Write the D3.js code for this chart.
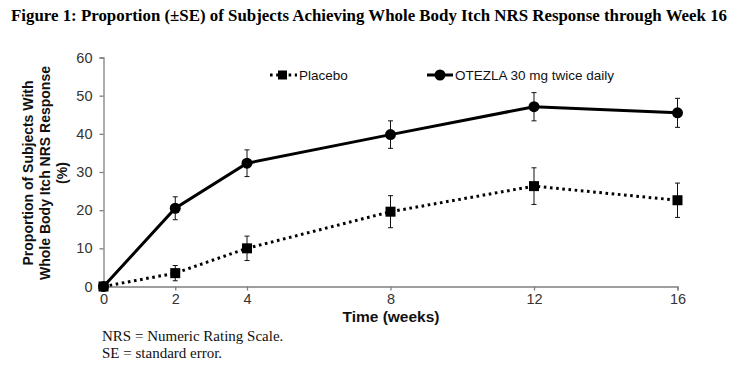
<!DOCTYPE html>
<html>
<head>
<meta charset="utf-8">
<script src="https://cdn.jsdelivr.net/npm/d3@7"></script>
<style>
  body { margin: 0; background: #fff; }
  svg { display: block; }
</style>
</head>
<body>
<script>
// data
const weeks = [0, 2, 4, 8, 12, 16]
const placebo = [0, 3.5, 10.0, 19.6, 26.3, 22.6]
const placeboSE = [0, 2.0, 3.2, 4.2, 4.8, 4.5]
const otezla = [0, 20.5, 32.3, 39.8, 47.1, 45.5]
const otezlaSE = [0, 3.0, 3.5, 3.6, 3.7, 3.8]
const yTicks = [0, 10, 20, 30, 40, 50, 60]
const xTicks = [0, 2, 4, 8, 12, 16]

let w = 737
let h = 366

let svg = d3.select("body")
    .append("svg")
    .attr("width", w)
    .attr("height", h)

let x = d3.scaleLinear().domain([0, 16]).range([103.5, 677.5])
let y = d3.scaleLinear().domain([0, 60]).range([286.5, 57.5])

// title
svg.append("text")
    .attr("x", 369).attr("y", 21)
    .attr("text-anchor", "middle")
    .attr("font-family", "Liberation Serif, Times New Roman, serif")
    .attr("font-weight", "bold")
    .attr("font-size", 16)
    .attr("textLength", 716)
    .attr("lengthAdjust", "spacingAndGlyphs")
    .text("Figure 1: Proportion (±SE) of Subjects Achieving Whole Body Itch NRS Response through Week 16")

// axes
svg.append("g")
    .attr("transform", "translate(" + x(0) + ",0)")
    .call(d3.axisLeft(y).tickValues(yTicks).tickSize(4).tickSizeOuter(4).tickPadding(7))
svg.append("g")
    .attr("transform", "translate(0," + y(0) + ")")
    .call(d3.axisBottom(x).tickValues(xTicks).tickSize(4).tickSizeOuter(4).tickPadding(3))

svg.selectAll(".domain, .tick line").attr("stroke", "#7f7f7f").attr("stroke-width", 1.3)
svg.selectAll(".tick text")
    .attr("font-family", "Liberation Sans, Arial, sans-serif")
    .attr("font-size", 14.5)
    .attr("fill", "#333")

// y label
let yl = svg.append("text")
    .attr("transform", "translate(0,173) rotate(-90)")
    .attr("text-anchor", "middle")
    .attr("font-family", "Liberation Sans, Arial, sans-serif")
    .attr("font-weight", "bold")
    .attr("font-size", 14)
    .attr("fill", "#111")
;[["Proportion of Subjects With", 33], ["Whole Body Itch NRS Response", 50], ["(%)", 67]].forEach(d => {
    yl.append("tspan").attr("x", 0).attr("y", d[1]).text(d[0])
})

// x label
svg.append("text")
    .attr("x", 391).attr("y", 322)
    .attr("text-anchor", "middle")
    .attr("font-family", "Liberation Sans, Arial, sans-serif")
    .attr("font-weight", "bold")
    .attr("font-size", 15.5)
    .attr("fill", "#111")
    .text("Time (weeks)")

// footnotes
svg.selectAll(".foot")
    .data(["NRS = Numeric Rating Scale.", "SE = standard error."])
    .enter().append("text")
    .attr("x", 102)
    .attr("y", (d, i) => 341 + i * 16.5)
    .attr("font-family", "Liberation Serif, Times New Roman, serif")
    .attr("font-size", 15)
    .attr("fill", "#111")
    .text(d => d)

let line = d3.line().x(d => x(d[0])).y(d => y(d[1]))

function errorBars(vals, se) {
    let g = svg.append("g").attr("stroke", "#111").attr("stroke-width", 1)
    weeks.forEach((wk, i) => {
        if (!se[i]) return
        g.append("line").attr("x1", x(wk)).attr("x2", x(wk))
            .attr("y1", y(vals[i] - se[i])).attr("y2", y(vals[i] + se[i]))
        ;[vals[i] - se[i], vals[i] + se[i]].forEach(v => {
            g.append("line").attr("x1", x(wk) - 2.5).attr("x2", x(wk) + 2.5)
                .attr("y1", y(v)).attr("y2", y(v))
        })
    })
}

errorBars(placebo, placeboSE)
errorBars(otezla, otezlaSE)

// placebo
svg.append("path")
    .datum(weeks.map((d, i) => [d, placebo[i]]))
    .attr("fill", "none")
    .attr("stroke", "#000")
    .attr("stroke-width", 3)
    .attr("stroke-dasharray", "2.6,3.6")
    .attr("d", line)
svg.selectAll(".sq")
    .data(weeks.map((d, i) => [d, placebo[i]]))
    .enter().append("rect")
    .attr("x", d => x(d[0]) - 5)
    .attr("y", d => y(d[1]) - 5)
    .attr("width", 10).attr("height", 10)
    .attr("fill", "#000")

// otezla
svg.append("path")
    .datum(weeks.map((d, i) => [d, otezla[i]]))
    .attr("fill", "none")
    .attr("stroke", "#000")
    .attr("stroke-width", 3)
    .attr("d", line)
svg.selectAll(".ci")
    .data(weeks.map((d, i) => [d, otezla[i]]))
    .enter().append("circle")
    .attr("cx", d => x(d[0]))
    .attr("cy", d => y(d[1]))
    .attr("r", 5.5)
    .attr("fill", "#000")

// legend
let lg = svg.append("g").attr("font-family", "Liberation Sans, Arial, sans-serif").attr("font-size", 13.5).attr("fill", "#111")
lg.append("line").attr("x1", 270).attr("x2", 297).attr("y1", 75).attr("y2", 75)
    .attr("stroke", "#000").attr("stroke-width", 3).attr("stroke-dasharray", "2.6,3.6")
lg.append("rect").attr("x", 278).attr("y", 70.5).attr("width", 9).attr("height", 9).attr("fill", "#000")
lg.append("text").attr("x", 299).attr("y", 80).text("Placebo")
lg.append("line").attr("x1", 427).attr("x2", 453).attr("y1", 75).attr("y2", 75)
    .attr("stroke", "#000").attr("stroke-width", 3)
lg.append("circle").attr("cx", 440).attr("cy", 75).attr("r", 5.5).attr("fill", "#000")
lg.append("text").attr("x", 455).attr("y", 80).text("OTEZLA 30 mg twice daily")
</script>
</body>
</html>
